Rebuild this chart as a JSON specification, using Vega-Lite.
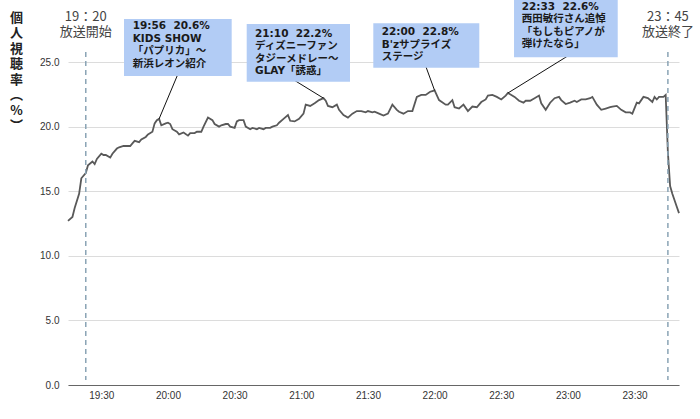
{
  "$schema": "https://vega.github.io/schema/vega-lite/v6.json",
  "autosize": "none",
  "width": 611,
  "height": 323,
  "padding": {"left": 68, "top": 62, "right": 21, "bottom": 34},
  "background": "white",
  "config": {"view": {"stroke": null}, "font": "Liberation Sans"},
  "layer": [
    {
      "data": {
        "values": [
          {"time": "2024-01-01T19:15", "rating": 12.7}, {"time": "2024-01-01T19:17", "rating": 13.0}, {"time": "2024-01-01T19:18", "rating": 13.7},
          {"time": "2024-01-01T19:20", "rating": 14.8}, {"time": "2024-01-01T19:21", "rating": 16.0}, {"time": "2024-01-01T19:23", "rating": 16.4},
          {"time": "2024-01-01T19:24", "rating": 17.0}, {"time": "2024-01-01T19:26", "rating": 17.3}, {"time": "2024-01-01T19:27", "rating": 17.1},
          {"time": "2024-01-01T19:28", "rating": 17.5}, {"time": "2024-01-01T19:30", "rating": 17.9}, {"time": "2024-01-01T19:31", "rating": 17.8},
          {"time": "2024-01-01T19:32", "rating": 17.8}, {"time": "2024-01-01T19:34", "rating": 17.6}, {"time": "2024-01-01T19:35", "rating": 17.9},
          {"time": "2024-01-01T19:37", "rating": 18.3}, {"time": "2024-01-01T19:38", "rating": 18.4}, {"time": "2024-01-01T19:40", "rating": 18.5},
          {"time": "2024-01-01T19:41", "rating": 18.5}, {"time": "2024-01-01T19:43", "rating": 18.5}, {"time": "2024-01-01T19:44", "rating": 18.7},
          {"time": "2024-01-01T19:45", "rating": 18.9}, {"time": "2024-01-01T19:47", "rating": 18.8}, {"time": "2024-01-01T19:48", "rating": 19.0},
          {"time": "2024-01-01T19:50", "rating": 19.2}, {"time": "2024-01-01T19:51", "rating": 19.4}, {"time": "2024-01-01T19:53", "rating": 19.6},
          {"time": "2024-01-01T19:54", "rating": 20.25}, {"time": "2024-01-01T19:55", "rating": 20.5}, {"time": "2024-01-01T19:56", "rating": 20.6},
          {"time": "2024-01-01T19:57", "rating": 20.1}, {"time": "2024-01-01T19:59", "rating": 20.25}, {"time": "2024-01-01T20:00", "rating": 20.3},
          {"time": "2024-01-01T20:01", "rating": 20.2}, {"time": "2024-01-01T20:02", "rating": 19.8}, {"time": "2024-01-01T20:04", "rating": 19.6},
          {"time": "2024-01-01T20:05", "rating": 19.4}, {"time": "2024-01-01T20:07", "rating": 19.55}, {"time": "2024-01-01T20:09", "rating": 19.3},
          {"time": "2024-01-01T20:10", "rating": 19.5}, {"time": "2024-01-01T20:12", "rating": 19.5}, {"time": "2024-01-01T20:13", "rating": 19.6},
          {"time": "2024-01-01T20:15", "rating": 19.6}, {"time": "2024-01-01T20:16", "rating": 20.0}, {"time": "2024-01-01T20:18", "rating": 20.7},
          {"time": "2024-01-01T20:20", "rating": 20.5}, {"time": "2024-01-01T20:21", "rating": 20.2}, {"time": "2024-01-01T20:23", "rating": 20.0},
          {"time": "2024-01-01T20:24", "rating": 20.1}, {"time": "2024-01-01T20:26", "rating": 20.2}, {"time": "2024-01-01T20:27", "rating": 20.2},
          {"time": "2024-01-01T20:28", "rating": 20.0}, {"time": "2024-01-01T20:30", "rating": 19.9}, {"time": "2024-01-01T20:31", "rating": 20.4},
          {"time": "2024-01-01T20:32", "rating": 20.5}, {"time": "2024-01-01T20:34", "rating": 20.5}, {"time": "2024-01-01T20:35", "rating": 20.0},
          {"time": "2024-01-01T20:37", "rating": 19.8}, {"time": "2024-01-01T20:38", "rating": 19.9}, {"time": "2024-01-01T20:40", "rating": 19.8},
          {"time": "2024-01-01T20:41", "rating": 19.9}, {"time": "2024-01-01T20:43", "rating": 19.8}, {"time": "2024-01-01T20:44", "rating": 19.9},
          {"time": "2024-01-01T20:46", "rating": 19.9}, {"time": "2024-01-01T20:47", "rating": 20.0}, {"time": "2024-01-01T20:49", "rating": 20.1},
          {"time": "2024-01-01T20:50", "rating": 20.3}, {"time": "2024-01-01T20:52", "rating": 20.6}, {"time": "2024-01-01T20:54", "rating": 20.9},
          {"time": "2024-01-01T20:55", "rating": 20.45}, {"time": "2024-01-01T20:57", "rating": 20.4}, {"time": "2024-01-01T20:59", "rating": 20.6},
          {"time": "2024-01-01T21:01", "rating": 21.0}, {"time": "2024-01-01T21:02", "rating": 21.7}, {"time": "2024-01-01T21:04", "rating": 21.6},
          {"time": "2024-01-01T21:06", "rating": 21.8}, {"time": "2024-01-01T21:08", "rating": 22.05}, {"time": "2024-01-01T21:10", "rating": 22.2},
          {"time": "2024-01-01T21:11", "rating": 22.0}, {"time": "2024-01-01T21:12", "rating": 21.6}, {"time": "2024-01-01T21:14", "rating": 21.5},
          {"time": "2024-01-01T21:16", "rating": 21.7}, {"time": "2024-01-01T21:17", "rating": 21.3}, {"time": "2024-01-01T21:19", "rating": 20.9},
          {"time": "2024-01-01T21:21", "rating": 20.7}, {"time": "2024-01-01T21:23", "rating": 21.0}, {"time": "2024-01-01T21:25", "rating": 21.2},
          {"time": "2024-01-01T21:27", "rating": 21.2}, {"time": "2024-01-01T21:29", "rating": 21.1}, {"time": "2024-01-01T21:30", "rating": 21.2},
          {"time": "2024-01-01T21:32", "rating": 21.1}, {"time": "2024-01-01T21:33", "rating": 21.15}, {"time": "2024-01-01T21:35", "rating": 21.0},
          {"time": "2024-01-01T21:37", "rating": 20.85}, {"time": "2024-01-01T21:39", "rating": 21.0}, {"time": "2024-01-01T21:41", "rating": 21.7},
          {"time": "2024-01-01T21:43", "rating": 21.3}, {"time": "2024-01-01T21:44", "rating": 21.15}, {"time": "2024-01-01T21:46", "rating": 21.0},
          {"time": "2024-01-01T21:48", "rating": 21.2}, {"time": "2024-01-01T21:50", "rating": 21.2}, {"time": "2024-01-01T21:52", "rating": 22.3},
          {"time": "2024-01-01T21:54", "rating": 22.45}, {"time": "2024-01-01T21:56", "rating": 22.45}, {"time": "2024-01-01T21:58", "rating": 22.7},
          {"time": "2024-01-01T21:59", "rating": 22.75}, {"time": "2024-01-01T22:00", "rating": 22.8}, {"time": "2024-01-01T22:02", "rating": 22.05},
          {"time": "2024-01-01T22:05", "rating": 21.7}, {"time": "2024-01-01T22:06", "rating": 21.7}, {"time": "2024-01-01T22:08", "rating": 22.05},
          {"time": "2024-01-01T22:09", "rating": 21.5}, {"time": "2024-01-01T22:11", "rating": 21.4}, {"time": "2024-01-01T22:13", "rating": 21.7},
          {"time": "2024-01-01T22:15", "rating": 21.2}, {"time": "2024-01-01T22:17", "rating": 21.55}, {"time": "2024-01-01T22:19", "rating": 21.5},
          {"time": "2024-01-01T22:21", "rating": 21.9}, {"time": "2024-01-01T22:23", "rating": 22.1}, {"time": "2024-01-01T22:24", "rating": 22.4},
          {"time": "2024-01-01T22:26", "rating": 22.45}, {"time": "2024-01-01T22:28", "rating": 22.3}, {"time": "2024-01-01T22:30", "rating": 22.1},
          {"time": "2024-01-01T22:32", "rating": 22.4}, {"time": "2024-01-01T22:33", "rating": 22.6}, {"time": "2024-01-01T22:36", "rating": 22.3},
          {"time": "2024-01-01T22:38", "rating": 22.0}, {"time": "2024-01-01T22:40", "rating": 21.85}, {"time": "2024-01-01T22:41", "rating": 22.0},
          {"time": "2024-01-01T22:43", "rating": 22.0}, {"time": "2024-01-01T22:45", "rating": 22.2}, {"time": "2024-01-01T22:47", "rating": 22.4},
          {"time": "2024-01-01T22:48", "rating": 21.8}, {"time": "2024-01-01T22:50", "rating": 21.3}, {"time": "2024-01-01T22:52", "rating": 21.85},
          {"time": "2024-01-01T22:54", "rating": 22.2}, {"time": "2024-01-01T22:56", "rating": 22.3}, {"time": "2024-01-01T22:57", "rating": 22.05},
          {"time": "2024-01-01T22:59", "rating": 21.75}, {"time": "2024-01-01T23:01", "rating": 21.85}, {"time": "2024-01-01T23:03", "rating": 22.0},
          {"time": "2024-01-01T23:04", "rating": 21.9}, {"time": "2024-01-01T23:06", "rating": 22.1}, {"time": "2024-01-01T23:08", "rating": 22.1},
          {"time": "2024-01-01T23:10", "rating": 22.2}, {"time": "2024-01-01T23:11", "rating": 22.3}, {"time": "2024-01-01T23:13", "rating": 21.7},
          {"time": "2024-01-01T23:15", "rating": 21.3}, {"time": "2024-01-01T23:17", "rating": 21.4}, {"time": "2024-01-01T23:19", "rating": 21.5},
          {"time": "2024-01-01T23:20", "rating": 21.55}, {"time": "2024-01-01T23:22", "rating": 21.6}, {"time": "2024-01-01T23:24", "rating": 21.3},
          {"time": "2024-01-01T23:26", "rating": 21.1}, {"time": "2024-01-01T23:28", "rating": 21.1}, {"time": "2024-01-01T23:29", "rating": 21.0},
          {"time": "2024-01-01T23:31", "rating": 21.85}, {"time": "2024-01-01T23:32", "rating": 21.8}, {"time": "2024-01-01T23:34", "rating": 22.3},
          {"time": "2024-01-01T23:36", "rating": 22.2}, {"time": "2024-01-01T23:38", "rating": 21.9}, {"time": "2024-01-01T23:39", "rating": 22.3},
          {"time": "2024-01-01T23:40", "rating": 22.1}, {"time": "2024-01-01T23:41", "rating": 22.3}, {"time": "2024-01-01T23:43", "rating": 22.3},
          {"time": "2024-01-01T23:44", "rating": 22.45}, {"time": "2024-01-01T23:45", "rating": 18.0}, {"time": "2024-01-01T23:46", "rating": 15.4},
          {"time": "2024-01-01T23:47", "rating": 14.8}, {"time": "2024-01-01T23:48", "rating": 14.3}, {"time": "2024-01-01T23:49", "rating": 13.8},
          {"time": "2024-01-01T23:50", "rating": 13.3}
        ]
      },
      "mark": {"type": "line", "color": "#595959", "strokeWidth": 1.8},
      "encoding": {
        "x": {
          "field": "time", "type": "temporal",
          "axis": {
            "title": null, "format": "%H:%M", "tickCount": 9,
            "grid": false, "ticks": false, "domainColor": "#666666", "domainWidth": 1.2,
            "labelPadding": 5, "labelFontSize": 10, "labelColor": "#333333", "labelFont": "Liberation Sans"
          }
        },
        "y": {
          "field": "rating", "type": "quantitative",
          "scale": {"domain": [0, 25], "nice": false},
          "axis": {
            "title": ["個", "人", "視", "聴", "率", "︵", "%", "︶"],
            "titleAngle": 0, "titleAlign": "center", "titleBaseline": "top",
            "titleX": -52, "titleY": -51, "titleFontSize": 13, "titleFontWeight": "bold",
            "titleColor": "#222222", "titleFont": "Noto Sans CJK JP", "titleLineHeight": 15.5,
            "format": ".1f", "values": [0, 5, 10, 15, 20, 25],
            "domain": false, "ticks": false, "labelPadding": 9, "labelFontSize": 10,
            "labelColor": "#333333", "labelFont": "Liberation Sans", "gridColor": "#dcdcdc"
          }
        }
      }
    },
    {
      "data": {
        "values": [
          {"time": "2024-01-01T19:23", "clock": "19：20", "label": "放送開始"},
          {"time": "2024-01-01T23:45", "clock": "23：45", "label": "放送終了"}
        ]
      },
      "layer": [
        {
          "mark": {"type": "rule", "color": "#8aa4b5", "strokeWidth": 1.5, "strokeDash": [5, 4], "yOffset": -10, "y2Offset": -5},
          "encoding": {
            "x": {"field": "time", "type": "temporal"},
            "y": {"datum": 25, "scale": {"domain": [0, 25], "nice": false}},
            "y2": {"datum": 0}
          }
        },
        {
          "mark": {"type": "text", "align": "center", "baseline": "middle", "dy": -45.3, "fontSize": 13, "color": "#444444", "font": "Noto Sans CJK JP"},
          "encoding": {
            "x": {"field": "time", "type": "temporal"},
            "y": {"datum": 25, "scale": {"domain": [0, 25], "nice": false}},
            "text": {"field": "clock"}
          }
        },
        {
          "mark": {"type": "text", "align": "center", "baseline": "middle", "dy": -29.7, "fontSize": 13, "color": "#444444", "font": "Noto Sans CJK JP"},
          "encoding": {
            "x": {"field": "time", "type": "temporal"},
            "y": {"datum": 25, "scale": {"domain": [0, 25], "nice": false}},
            "text": {"field": "label"}
          }
        }
      ]
    },
    {
      "data": {"values": [{"time": "2024-01-01T19:56", "rating": 20.6, "note": "19:56\u00a0\u00a020.6%\nKIDS SHOW\n「パプリカ」～\n新浜レオン紹介"}]},
      "layer": [
        {"mark": {"type": "rule", "color": "#111111", "strokeWidth": 1, "x2Offset": 18.5, "y2Offset": -44},
         "encoding": {"x": {"field": "time", "type": "temporal"}, "x2": {"field": "time"}, "y": {"field": "rating", "type": "quantitative", "scale": {"domain": [0, 25], "nice": false}}, "y2": {"field": "rating"}}},
        {"mark": {"type": "rect", "color": "#b2ccf5", "xOffset": -35.1, "x2Offset": 72.6, "yOffset": -99.8, "y2Offset": -42.8},
         "encoding": {"x": {"field": "time", "type": "temporal"}, "x2": {"field": "time"}, "y": {"field": "rating", "type": "quantitative", "scale": {"domain": [0, 25], "nice": false}}, "y2": {"field": "rating"}}},
        {"mark": {"type": "text", "align": "left", "baseline": "top", "dx": -26.4, "dy": -97.4, "lineBreak": "\n", "lineHeight": 12.5, "fontSize": 10.5, "fontWeight": "bold", "color": "#1a1a1a", "font": "DejaVu Sans, Noto Sans CJK JP"},
         "encoding": {"x": {"field": "time", "type": "temporal"}, "y": {"field": "rating", "type": "quantitative", "scale": {"domain": [0, 25], "nice": false}}, "text": {"field": "note"}}}
      ]
    },
    {
      "data": {"values": [{"time": "2024-01-01T21:10", "rating": 22.2, "note": "21:10\u00a0\u00a022.2%\nディズニーファン\nタジーメドレー～\nGLAY「誘惑」"}]},
      "layer": [
        {"mark": {"type": "rule", "color": "#111111", "strokeWidth": 1, "x2Offset": -28.5, "y2Offset": -17.5},
         "encoding": {"x": {"field": "time", "type": "temporal"}, "x2": {"field": "time"}, "y": {"field": "rating", "type": "quantitative", "scale": {"domain": [0, 25], "nice": false}}, "y2": {"field": "rating"}}},
        {"mark": {"type": "rect", "color": "#b2ccf5", "xOffset": -76.8, "x2Offset": 26.5, "yOffset": -74.2, "y2Offset": -16.5},
         "encoding": {"x": {"field": "time", "type": "temporal"}, "x2": {"field": "time"}, "y": {"field": "rating", "type": "quantitative", "scale": {"domain": [0, 25], "nice": false}}, "y2": {"field": "rating"}}},
        {"mark": {"type": "text", "align": "left", "baseline": "top", "dx": -68.5, "dy": -69.5, "lineBreak": "\n", "lineHeight": 12.5, "fontSize": 10.5, "fontWeight": "bold", "color": "#1a1a1a", "font": "DejaVu Sans, Noto Sans CJK JP"},
         "encoding": {"x": {"field": "time", "type": "temporal"}, "y": {"field": "rating", "type": "quantitative", "scale": {"domain": [0, 25], "nice": false}}, "text": {"field": "note"}}}
      ]
    },
    {
      "data": {"values": [{"time": "2024-01-01T22:00", "rating": 22.8, "note": "22:00\u00a0\u00a022.8%\nB'zサプライズ\nステージ"}]},
      "layer": [
        {"mark": {"type": "rule", "color": "#111111", "strokeWidth": 1, "x2Offset": -8.6, "y2Offset": -23.5},
         "encoding": {"x": {"field": "time", "type": "temporal"}, "x2": {"field": "time"}, "y": {"field": "rating", "type": "quantitative", "scale": {"domain": [0, 25], "nice": false}}, "y2": {"field": "rating"}}},
        {"mark": {"type": "rect", "color": "#b2ccf5", "xOffset": -61.3, "x2Offset": 44.7, "yOffset": -67.1, "y2Offset": -22.7},
         "encoding": {"x": {"field": "time", "type": "temporal"}, "x2": {"field": "time"}, "y": {"field": "rating", "type": "quantitative", "scale": {"domain": [0, 25], "nice": false}}, "y2": {"field": "rating"}}},
        {"mark": {"type": "text", "align": "left", "baseline": "top", "dx": -52.9, "dy": -63.4, "lineBreak": "\n", "lineHeight": 12.5, "fontSize": 10.5, "fontWeight": "bold", "color": "#1a1a1a", "font": "DejaVu Sans, Noto Sans CJK JP"},
         "encoding": {"x": {"field": "time", "type": "temporal"}, "y": {"field": "rating", "type": "quantitative", "scale": {"domain": [0, 25], "nice": false}}, "text": {"field": "note"}}}
      ]
    },
    {
      "data": {"values": [{"time": "2024-01-01T22:33", "rating": 22.6, "note": "22:33\u00a0\u00a022.6%\n西田敏行さん追悼\n「もしもピアノが\n弾けたなら」"}]},
      "layer": [
        {"mark": {"type": "rule", "color": "#111111", "strokeWidth": 1, "x2Offset": 59, "y2Offset": -36.5},
         "encoding": {"x": {"field": "time", "type": "temporal"}, "x2": {"field": "time"}, "y": {"field": "rating", "type": "quantitative", "scale": {"domain": [0, 25], "nice": false}}, "y2": {"field": "rating"}}},
        {"mark": {"type": "rect", "color": "#b2ccf5", "xOffset": 6.1, "x2Offset": 109.8, "yOffset": -93, "y2Offset": -35.7},
         "encoding": {"x": {"field": "time", "type": "temporal"}, "x2": {"field": "time"}, "y": {"field": "rating", "type": "quantitative", "scale": {"domain": [0, 25], "nice": false}}, "y2": {"field": "rating"}}},
        {"mark": {"type": "text", "align": "left", "baseline": "top", "dx": 13.8, "dy": -91.5, "lineBreak": "\n", "lineHeight": 12.5, "fontSize": 10.5, "fontWeight": "bold", "color": "#1a1a1a", "font": "DejaVu Sans, Noto Sans CJK JP"},
         "encoding": {"x": {"field": "time", "type": "temporal"}, "y": {"field": "rating", "type": "quantitative", "scale": {"domain": [0, 25], "nice": false}}, "text": {"field": "note"}}}
      ]
    }
  ]
}
